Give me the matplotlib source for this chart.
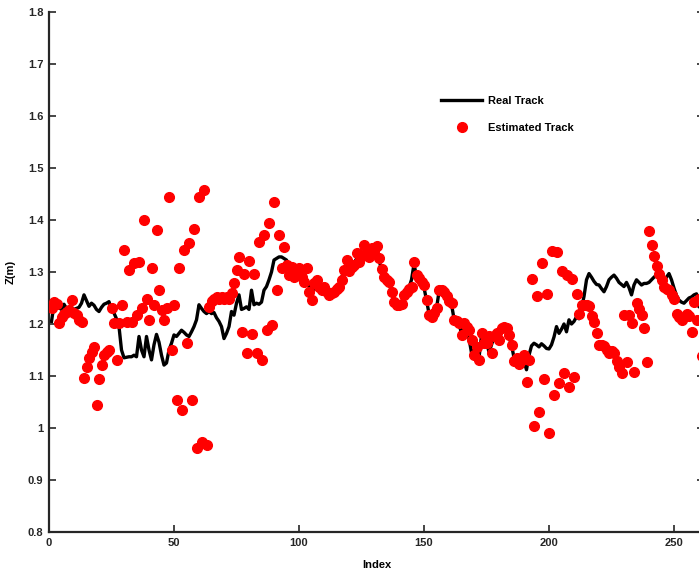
import matplotlib
matplotlib.use('Agg')
import matplotlib.pyplot as plt
import numpy as np
from matplotlib.ticker import FuncFormatter, MultipleLocator

# Real vs estimated Z coordinate along the track (one value per sample index)
real_z = [
    1.205, 1.237, 1.232, 1.231, 1.228, 1.238, 1.230, 1.227, 1.232, 1.228,
    1.230, 1.232, 1.240, 1.256, 1.245, 1.234, 1.240, 1.236, 1.228, 1.224,
    1.232, 1.238, 1.240, 1.243, 1.227, 1.221, 1.210, 1.195, 1.150, 1.135,
    1.136, 1.137, 1.137, 1.140, 1.137, 1.176, 1.150, 1.137, 1.176, 1.150,
    1.131, 1.160, 1.180, 1.165, 1.140, 1.121, 1.125, 1.150, 1.163, 1.179,
    1.176, 1.182, 1.188, 1.184, 1.179, 1.176, 1.185, 1.195, 1.208, 1.237,
    1.230, 1.224, 1.220, 1.224, 1.220, 1.222, 1.212, 1.205, 1.195, 1.172,
    1.182, 1.195, 1.224, 1.217, 1.240, 1.256, 1.228, 1.230, 1.233, 1.228,
    1.265, 1.237, 1.240, 1.238, 1.242, 1.265, 1.272, 1.285, 1.300, 1.323,
    1.326, 1.329, 1.329, 1.326, 1.323, 1.313, 1.305, 1.300, 1.300, 1.298,
    1.292, 1.288, 1.280, 1.272, 1.256, 1.270, 1.275, 1.268, 1.265, 1.270,
    1.262, 1.258, 1.260, 1.262, 1.265, 1.275, 1.290, 1.300, 1.310, 1.305,
    1.312, 1.318, 1.325, 1.322, 1.330, 1.336, 1.335, 1.338, 1.340, 1.342,
    1.340, 1.323, 1.305, 1.290, 1.285, 1.280, 1.262, 1.245, 1.238, 1.237,
    1.240, 1.255, 1.265, 1.270, 1.285, 1.315, 1.292, 1.285, 1.278, 1.270,
    1.246, 1.220, 1.215, 1.222, 1.230, 1.262, 1.265, 1.262, 1.253, 1.246,
    1.238, 1.210, 1.205, 1.200, 1.182, 1.200, 1.192, 1.172, 1.145, 1.150,
    1.155, 1.135, 1.178, 1.165, 1.168, 1.145, 1.160, 1.175, 1.180, 1.172,
    1.188, 1.190, 1.185, 1.175, 1.160, 1.135, 1.138, 1.130, 1.135, 1.128,
    1.112, 1.140, 1.158, 1.163, 1.160, 1.156, 1.162, 1.158, 1.153, 1.152,
    1.160, 1.175, 1.195, 1.182, 1.190, 1.200, 1.185, 1.208, 1.200, 1.205,
    1.214, 1.210, 1.230, 1.253, 1.285, 1.297, 1.290, 1.282, 1.276, 1.275,
    1.268, 1.262, 1.272, 1.285, 1.290, 1.294, 1.288, 1.280, 1.276, 1.272,
    1.280, 1.270, 1.256, 1.275, 1.285, 1.280, 1.275, 1.278, 1.278, 1.280,
    1.285, 1.290, 1.294, 1.290, 1.283, 1.282, 1.290, 1.297, 1.285, 1.269,
    1.255, 1.246, 1.242, 1.240, 1.245, 1.250, 1.252, 1.256, 1.258, 1.233,
    1.240, 1.250,
]

est_z = [
    1.230, 1.243, 1.238, 1.201, 1.214, 1.220, 1.224, 1.227, 1.246, 1.222,
    1.217, 1.208, 1.204, 1.096, 1.117, 1.134, 1.147, 1.156, 1.044, 1.094,
    1.122, 1.140, 1.147, 1.150, 1.230, 1.201, 1.130, 1.201, 1.236, 1.342,
    1.204, 1.304, 1.204, 1.317, 1.217, 1.320, 1.230, 1.400, 1.249, 1.208,
    1.307, 1.237, 1.381, 1.265, 1.227, 1.208, 1.230, 1.445, 1.150, 1.237,
    1.054, 1.307, 1.035, 1.342, 1.163, 1.355, 1.054, 1.382, 0.961, 1.445,
    0.974, 1.458, 0.967, 1.233, 1.245, 1.249, 1.252, 1.249, 1.252, 1.249,
    1.252, 1.249, 1.259, 1.278, 1.304, 1.329, 1.185, 1.296, 1.144, 1.322,
    1.181, 1.296, 1.145, 1.358, 1.131, 1.371, 1.188, 1.395, 1.198, 1.435,
    1.265, 1.371, 1.307, 1.349, 1.313, 1.295, 1.310, 1.291, 1.300, 1.307,
    1.290, 1.281, 1.307, 1.262, 1.246, 1.278, 1.285, 1.272, 1.265, 1.272,
    1.262, 1.256, 1.260, 1.262, 1.268, 1.272, 1.285, 1.304, 1.323, 1.301,
    1.310, 1.313, 1.336, 1.320, 1.330, 1.352, 1.340, 1.329, 1.346, 1.340,
    1.350, 1.326, 1.305, 1.291, 1.285, 1.281, 1.262, 1.243, 1.237, 1.236,
    1.238, 1.256, 1.262, 1.268, 1.272, 1.320, 1.295, 1.288, 1.280, 1.275,
    1.246, 1.217, 1.214, 1.222, 1.230, 1.265, 1.266, 1.262, 1.253, 1.245,
    1.240, 1.208, 1.205, 1.201, 1.179, 1.201, 1.195, 1.188, 1.169, 1.140,
    1.156, 1.131, 1.182, 1.163, 1.163, 1.176, 1.144, 1.176, 1.182, 1.169,
    1.192, 1.195, 1.192, 1.179, 1.160, 1.128, 1.134, 1.124, 1.130, 1.140,
    1.089, 1.131, 1.287, 1.003, 1.254, 1.030, 1.317, 1.094, 1.257, 0.991,
    1.341, 1.063, 1.339, 1.086, 1.302, 1.106, 1.294, 1.078, 1.287, 1.098,
    1.257, 1.220, 1.237, 1.237, 1.237, 1.235, 1.215, 1.203, 1.183, 1.160,
    1.160, 1.157, 1.150, 1.144, 1.148, 1.144, 1.128, 1.118, 1.105, 1.217,
    1.126, 1.217, 1.201, 1.108, 1.240, 1.228, 1.217, 1.192, 1.126, 1.378,
    1.352, 1.330, 1.312, 1.297, 1.285, 1.272, 1.268, 1.265, 1.256, 1.249,
    1.220, 1.214, 1.208, 1.214, 1.220, 1.215, 1.185, 1.243, 1.208, 1.249,
    1.138, 1.176,
]

x_ticks = [0, 50, 100, 150, 200, 250]

plt.rcParams['font.family'] = ['Liberation Sans', 'DejaVu Sans']
plt.rcParams['font.size'] = 8
plt.rcParams['font.weight'] = 'bold'

index = np.arange(1, len(real_z) + 1)

fig = plt.figure(figsize=(6.99, 5.73), dpi=100)
ax = fig.add_axes([49 / 699, 41 / 573, 262 * 2.5 / 699, 520 / 573])

ax.plot(index, real_z, color='black', linewidth=2.4, label='Real Track', zorder=2)
ax.plot(index, est_z, linestyle='none', marker='o', markersize=7.0,
        markerfacecolor='red', markeredgecolor='red', label='Estimated Track', zorder=3)

# Axis limits and MATLAB-like box with inward ticks
ax.set_xlim(0, 262)
ax.set_ylim(0.8, 1.8)
ax.set_xticks(x_ticks)
ax.yaxis.set_major_locator(MultipleLocator(0.1))
ax.yaxis.set_major_formatter(FuncFormatter(lambda v, pos: '{:g}'.format(round(v, 2))))
ax.tick_params(direction='in', length=5, width=1.2, colors='#262626',
               labelsize=8, right=True, top=False, pad=4)
for side in ['left', 'bottom', 'right']:
    ax.spines[side].set_linewidth(1.6)
    ax.spines[side].set_color('#262626')
ax.spines['top'].set_visible(False)

ax.set_xlabel('Index', fontsize=8, fontweight='bold', labelpad=9)
ax.set_ylabel('Z(m)', fontsize=8, fontweight='bold', labelpad=9)

ax.legend(loc='upper left', bbox_to_anchor=(441 / 699, 1 - 96 / 573),
          bbox_transform=fig.transFigure, frameon=False, borderpad=0,
          borderaxespad=0, handlelength=3.7, handletextpad=0.5,
          labelspacing=1.55, prop={'size': 8, 'weight': 'bold'})

fig.savefig('out.png', dpi=100)
